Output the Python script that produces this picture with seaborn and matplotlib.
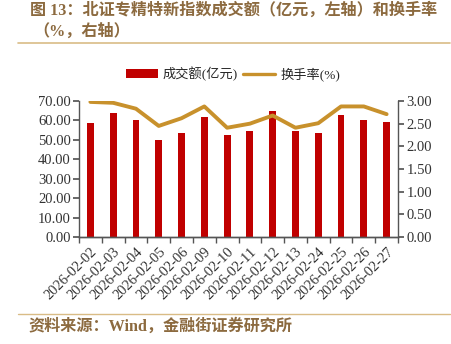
import matplotlib
matplotlib.use("Agg")
import matplotlib.pyplot as plt
import seaborn as sns
import pandas as pd
import numpy as np
from matplotlib.lines import Line2D
from matplotlib.patches import Patch

dates = ["2026-02-02", "2026-02-03", "2026-02-04", "2026-02-05", "2026-02-06",
         "2026-02-09", "2026-02-10", "2026-02-11", "2026-02-12", "2026-02-13",
         "2026-02-24", "2026-02-25", "2026-02-26", "2026-02-27"]
turnover_amount = [58.7, 63.6, 60.2, 49.8, 53.3, 61.6, 52.3, 54.5, 64.9, 54.8,
                   53.7, 62.6, 60.4, 59.3]
turnover_rate = [2.98, 2.96, 2.83, 2.45, 2.62, 2.88, 2.41, 2.50, 2.68, 2.41,
                 2.51, 2.88, 2.88, 2.71]
left_ticks = [0, 10, 20, 30, 40, 50, 60, 70]
right_ticks = [0, 0.5, 1.0, 1.5, 2.0, 2.5, 3.0]

df = pd.DataFrame({"date": dates, "amount": turnover_amount, "rate": turnover_rate})

sns.set_theme(style="white")
plt.rcParams['font.family'] = ['Liberation Serif', 'Noto Sans CJK SC']

BAR = "#C00000"
GOLD = "#C8912C"
BROWN = "#8C6A3F"
RULE = "#D9BC86"

fig = plt.figure(figsize=(4.51, 3.44), dpi=100)
ax = fig.add_axes([79/451, 1-237/344, (398-79)/451, 136/344])

sns.barplot(data=df, x="date", y="amount", ax=ax, color=BAR, width=0.3,
            saturation=1, edgecolor="none")
ax.set_xlim(-0.5, len(dates) - 0.5)
ax.set_ylim(0, 70)
ax.set_yticks(left_ticks)
ax.set_yticklabels([f"{v:.2f}" for v in left_ticks], fontsize=10.5, color="#333333")

ax2 = ax.twinx()
sns.lineplot(data=df, x="date", y="rate", ax=ax2, color=GOLD, linewidth=2.8,
             sort=False)
ax2.set_ylim(0, 3.0)
ax2.set_xlim(-0.5, len(dates) - 0.5)
ax2.set_yticks(right_ticks)
ax2.set_yticklabels([f"{v:.2f}" for v in right_ticks], fontsize=10.5, color="#333333")

for a in (ax, ax2):
    a.set_xlabel("")
    a.set_ylabel("")
    a.spines["top"].set_visible(False)
    for s in ("left", "right", "bottom"):
        a.spines[s].set_color("#555555")
        a.spines[s].set_linewidth(1.0)

ax.set_xticks(range(len(dates)))
ax.set_xticklabels(dates, rotation=45, ha="right", rotation_mode="anchor",
                   fontsize=10.5, color="#333333")
ax.tick_params(axis="x", which="major", length=0, pad=6)
ax.set_xticks(np.arange(-0.5, len(dates), 1.0), minor=True)
ax.tick_params(axis="x", which="minor", length=4, direction="out", color="#555555", bottom=True)
ax.tick_params(axis="y", length=4, direction="out", color="#555555", left=True, pad=2)
ax2.tick_params(axis="y", length=4, direction="out", color="#555555", right=True, pad=2)
ax.spines["right"].set_visible(False)
ax2.spines["left"].set_visible(False)

handles = [Patch(facecolor=BAR, edgecolor="none"),
           Line2D([0], [0], color=GOLD, linewidth=2.4)]
leg = fig.legend(handles, ["成交额(亿元)", "换手率(%)"], loc="center",
                 bbox_to_anchor=(233/451, 1-74/344), ncol=2, frameon=False,
                 prop={"family": ["Liberation Serif", "Noto Sans CJK SC"], "size": 9.5},
                 handlelength=2.4, handleheight=0.6, columnspacing=0.4, handletextpad=0.4)

title_font = ["Liberation Serif", "Noto Sans CJK SC"]
fig.text(30/451, 1-11/344, "图 13：北证专精特新指数成交额（亿元，左轴）和换手率",
         fontsize=11.6, color=BROWN, fontweight="bold", va="center", ha="left",
         family=title_font)
fig.text(33/451, 1-32/344, "（%，右轴）",
         fontsize=11.6, color=BROWN, fontweight="bold", va="center", ha="left",
         family=title_font)
fig.add_artist(Line2D([18/451, 450/451], [1-43/344, 1-43/344], color=RULE, linewidth=1.2))
fig.add_artist(Line2D([18/451, 450/451], [1-314/344, 1-314/344], color=RULE, linewidth=1.0))
fig.text(28/451, 1-327/344, "资料来源：Wind，金融街证券研究所",
         fontsize=11.6, color=BROWN, fontweight="bold", va="center", ha="left",
         family=title_font)

fig.savefig("out.png", dpi=100, facecolor="white")
